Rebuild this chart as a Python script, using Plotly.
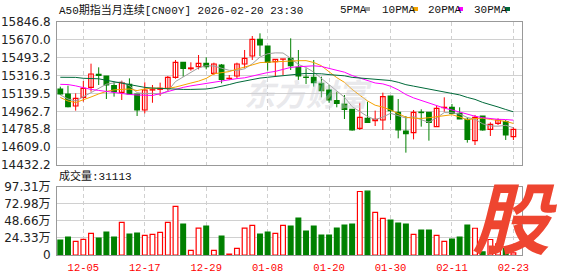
import plotly.graph_objects as go

# ---------------- data ----------------
dates = ['2025-12-02', '2025-12-03', '2025-12-04', '2025-12-05',
         '2025-12-08', '2025-12-09', '2025-12-10', '2025-12-11', '2025-12-12',
         '2025-12-15', '2025-12-16', '2025-12-17', '2025-12-18', '2025-12-19',
         '2025-12-22', '2025-12-23', '2025-12-24', '2025-12-25', '2025-12-26',
         '2025-12-29', '2025-12-30', '2025-12-31', '2026-01-01', '2026-01-02',
         '2026-01-05', '2026-01-06', '2026-01-07', '2026-01-08', '2026-01-09',
         '2026-01-12', '2026-01-13', '2026-01-14', '2026-01-15', '2026-01-16',
         '2026-01-19', '2026-01-20', '2026-01-21', '2026-01-22', '2026-01-23',
         '2026-01-26', '2026-01-27', '2026-01-28', '2026-01-29', '2026-01-30',
         '2026-02-02', '2026-02-03', '2026-02-04', '2026-02-05', '2026-02-06',
         '2026-02-09', '2026-02-10', '2026-02-11', '2026-02-12', '2026-02-13',
         '2026-02-16', '2026-02-17', '2026-02-18', '2026-02-19', '2026-02-20',
         '2026-02-23']

opens = [15184, 15134.6, 15016, 15101.7, 15200.6, 15329, 15312.7, 15217.1, 15151.2, 15230.3,
         15134.6, 14976.4, 15174, 15181, 15190.7, 15299.5, 15447.9, 15385, 15405, 15438,
         15339, 15421.5, 15287, 15312.7, 15431.4, 15510.5, 15675.4, 15609.4, 15454.5, 15479,
         15487.5, 15398.4, 15301, 15299.5, 15240, 15174.2, 15068.7, 15035.8, 14983, 14795,
         14894, 14871, 14877.5, 15114.9, 14953.3, 14768.7, 14752, 14955, 14953.3, 14811.6,
         15000, 15002.8, 14943.3, 14884, 14673, 14917, 14785.2, 14844.5, 14861, 14712.7]

highs = [15207, 15217, 15141, 15263, 15434.7, 15398.4, 15312.7, 15256.7, 15266.5, 15289.6,
         15134.6, 15250, 15223.7, 15246.8, 15312.7, 15471, 15447.9, 15447.9, 15520.4, 15497.3,
         15444.6, 15431.4, 15322.6, 15444.6, 15569.9, 15708.3, 15734.7, 15609.4, 15477.6, 15481,
         15685.3, 15569.9, 15388.5, 15471, 15306, 15223.7, 15157.7, 15124.8, 14983, 15048,
         15058, 14970, 15147.9, 15114.9, 15085, 14917, 14976.4, 14983, 14953.3, 15025.9,
         15101.7, 15035.8, 15002.8, 14903.9, 14927, 14917, 14854.4, 14894, 14877.5, 14805]

lows = [15124.8, 15003, 14969.8, 15059, 15157.7, 15223.7, 15085.2, 15108.3, 15075.3, 15134.6,
        14917, 14943, 15048, 15114.9, 15167.6, 15286, 15306, 15365.5, 15378.6, 15378.6,
        15322.6, 15240.2, 15273, 15289.6, 15388.5, 15471, 15510.5, 15365.5, 15312.7, 15322.6,
        15372, 15273.1, 15233.6, 15207, 15101.7, 15048, 15003, 14887, 14772, 14778.6,
        14852, 14818, 14778.6, 14877.5, 14696, 14554.4, 14686, 14811.6, 14673, 14811.6,
        14960, 14943.3, 14887.3, 14653.3, 14630, 14772, 14719.3, 14828, 14679.7, 14679.7]

closes = [15134.6, 15009.4, 15091.8, 15190.7, 15332.5, 15319, 15223.7, 15157.7, 15246.8, 15134.6,
          14976.4, 15174.2, 15177, 15191, 15299.5, 15447.9, 15388.5, 15392, 15438, 15405,
          15431.4, 15279.7, 15290, 15431.4, 15487.5, 15675.4, 15619.3, 15447.9, 15477.6, 15481,
          15414.9, 15312.7, 15299, 15246.8, 15167.6, 15075.3, 15042.4, 14983, 14778.6, 14903.9,
          14854.4, 14884, 15108.3, 14969.8, 14779, 14742.3, 14953, 14951, 14854.4, 14992.9,
          15003, 14943.3, 14887.3, 14686.3, 14903.9, 14778.6, 14834.6, 14877.5, 14729, 14785.2]

# volume in 万 (10 000 contracts)
volumes_wan = [21.3, 25.5, 19.4, 22.2, 30.7, 24.1, 32.6, 25.5, 46.3, 29.8,
               31.2, 27.9, 29.3, 32.1, 46.3, 69.0, 43.9, 6.6, 38.3, 41.1,
               6.6, 26.9, 1.4, 9.4, 38.3, 42.0, 29.8, 32.6, 30.7, 42.0,
               41.1, 52.4, 34.0, 41.1, 28.3, 28.3, 38.3, 42.5, 43.9, 90.2,
               90.7, 60.5, 52.0, 49.6, 45.4, 43.9, 29.3, 35.4, 35.4, 27.9,
               19.4, 22.7, 25.5, 42.5, 38.0, 4.3, 22.0, 16.0, 9.4, 3.1113]

ma5 = [15125, 15085, 15065, 15105, 15151.8, 15188.7, 15231.5, 15244.7, 15255.9, 15216.4,
       15147.8, 15137.9, 15141.8, 15130.6, 15163.6, 15257.9, 15300.8, 15343.8, 15393.2, 15414.3,
       15411.0, 15389.2, 15368.8, 15367.5, 15384.0, 15432.8, 15500.7, 15532.3, 15541.5, 15540.2,
       15488.1, 15426.8, 15397.0, 15350.9, 15288.2, 15220.3, 15166.2, 15103.0, 15009.4, 14956.6,
       14912.5, 14880.8, 14905.8, 14944.1, 14919.1, 14896.7, 14910.5, 14879.0, 14855.9, 14898.7,
       14950.9, 14948.9, 14936.2, 14902.6, 14884.8, 14839.9, 14818.1, 14816.2, 14824.7, 14801.0]

ma10 = [15100, 15065, 15050, 15075, 15105, 15135, 15160, 15175, 15180, 15184.1,
        15168.3, 15184.7, 15193.3, 15193.3, 15190.0, 15202.9, 15219.4, 15242.8, 15261.9, 15289.0,
        15334.5, 15345.0, 15356.3, 15380.4, 15399.2, 15421.9, 15445.0, 15450.6, 15454.5, 15462.1,
        15460.5, 15463.8, 15464.7, 15446.2, 15414.2, 15354.2, 15296.5, 15250.0, 15180.2, 15122.4,
        15066.4, 15023.5, 15004.4, 14976.8, 14937.9, 14904.6, 14895.7, 14892.4, 14900.0, 14908.9,
        14923.8, 14929.7, 14907.6, 14879.3, 14891.8, 14895.4, 14883.5, 14876.2, 14863.7, 14842.9]

ma20 = [15230, 15228, 15215, 15195, 15180, 15170, 15160, 15145, 15135, 15130,
        15125, 15120, 15120, 15138, 15160, 15180, 15200, 15215, 15228, 15236.6,
        15251.4, 15264.9, 15274.8, 15286.9, 15294.6, 15312.4, 15332.2, 15346.7, 15358.2, 15375.6,
        15397.5, 15404.4, 15410.5, 15413.3, 15406.7, 15388.1, 15370.8, 15350.3, 15317.4, 15292.3,
        15263.5, 15243.7, 15234.6, 15211.5, 15176.1, 15129.4, 15096.1, 15071.2, 15040.1, 15015.7,
        14995.1, 14976.6, 14956.0, 14928.1, 14914.9, 14900.0, 14889.6, 14884.3, 14881.9, 14875.9]

ma30 = [15300, 15300, 15299, 15290, 15286, 15285, 15270, 15255, 15240, 15225,
        15212, 15200, 15193, 15188, 15185, 15182, 15180, 15180, 15182, 15184,
        15195, 15210, 15228, 15248, 15265, 15280, 15292, 15300, 15306, 15311.7,
        15321.1, 15331.2, 15338.1, 15340.0, 15334.5, 15326.3, 15320.3, 15314.5, 15298.9, 15291.2,
        15287.1, 15277.4, 15275.1, 15267.8, 15250.4, 15226.9, 15212.4, 15197.7, 15178.2, 15164.5,
        15150.2, 15139.0, 15125.6, 15100.8, 15081.3, 15051.4, 15025.2, 15006.2, 14981.3, 14958.1]

price_ticks = [15846.8, 15670.0, 15493.2, 15316.3, 15139.5, 14962.7, 14785.8, 14609.0, 14432.2]
vol_ticks = [97.31, 72.98, 48.66, 24.33, 0]
vol_tick_text = ['97.31万', '72.98万', '48.66万', '24.33万', '0']
date_ticks = ['12-05', '12-17', '12-29', '01-08', '01-20', '01-30', '02-11', '02-23']
title_text = 'A50期指当月连续[CN00Y] 2026-02-20 23:30'
last_volume = 31113
ma_names = ['5PMA', '10PMA', '20PMA', '30PMA']

# ---------------- styles ----------------
W, H = 578, 276
RED = '#ff0000'
GREEN = '#008000'
MA_COLORS = ['#a0a0a0', '#f5a200', '#ff00ff', '#006a3a']
GRID = '#d0d0d0'
FRAME = '#999999'
MONO = 'Liberation Mono, Noto Sans CJK SC'

idx = list(range(len(dates)))
up = [c >= o for o, c in zip(opens, closes)]
md = [d[5:] for d in dates]
tick_idx = [md.index(t) for t in date_ticks]


def px(xp):
    return xp / W


def py(yp):
    return 1 - yp / H


fig = go.Figure()

# wicks
for flag, col in ((True, RED), (False, GREEN)):
    wx, wy = [], []
    for i in idx:
        if up[i] == flag:
            wx += [i, i, None]
            wy += [lows[i], highs[i], None]
    fig.add_trace(go.Scatter(x=wx, y=wy, mode='lines', line=dict(color=col, width=1),
                             hoverinfo='skip', showlegend=False, xaxis='x', yaxis='y'))

# bodies
for flag, fill, col in ((True, '#ffffff', RED), (False, GREEN, GREEN)):
    bx = [i for i in idx if up[i] == flag]
    base = [min(opens[i], closes[i]) for i in bx]
    hgt = [max(abs(closes[i] - opens[i]), 1.0) for i in bx]
    fig.add_trace(go.Bar(x=bx, y=hgt, base=base, width=0.6,
                         marker=dict(color=fill, line=dict(color=col, width=1.2)),
                         showlegend=False, xaxis='x', yaxis='y'))

# moving averages
for vals, col in zip((ma5, ma10, ma20, ma30), MA_COLORS):
    fig.add_trace(go.Scatter(x=idx, y=vals, mode='lines', line=dict(color=col, width=1),
                             showlegend=False, xaxis='x', yaxis='y'))

# volume
for flag, fill, col in ((True, '#ffffff', RED), (False, GREEN, GREEN)):
    vx = [i for i in idx if up[i] == flag]
    vy = [volumes_wan[i] for i in vx]
    fig.add_trace(go.Bar(x=vx, y=vy, width=0.62,
                         marker=dict(color=fill, line=dict(color=col, width=1.2)),
                         showlegend=False, xaxis='x2', yaxis='y2'))

xr = [-0.43, 60.12]
common_x = dict(domain=[px(57), px(522)], range=xr, tickvals=tick_idx,
                showgrid=True, gridcolor=GRID, griddash='4px,3px', gridwidth=1,
                showline=True, mirror=True, linecolor=FRAME, linewidth=1,
                zeroline=False, ticks='', fixedrange=True, automargin=False)

fig.update_layout(
    width=W, height=H,
    margin=dict(l=0, r=0, t=0, b=0),
    paper_bgcolor='white', plot_bgcolor='white',
    barmode='overlay', showlegend=False,
    xaxis=dict(**common_x, anchor='y', showticklabels=False),
    yaxis=dict(domain=[py(165), py(22)], range=[price_ticks[-1], price_ticks[0]],
               tickvals=price_ticks, ticktext=[f'{v:.1f}' for v in price_ticks],
               showgrid=True, gridcolor=GRID, gridwidth=1,
               showline=True, mirror=True, linecolor=FRAME, linewidth=1,
               zeroline=False, ticks='', ticklabelstandoff=3,
               tickfont=dict(family='DejaVu Sans', size=12, color='#222222'),
               fixedrange=True, automargin=False, anchor='x'),
    xaxis2=dict(**common_x, anchor='y2', ticktext=date_ticks, showticklabels=True,
                tickfont=dict(family=MONO, size=10.5, color=RED), ticklabelstandoff=2),
    yaxis2=dict(domain=[py(255), py(186.5)], range=[0, vol_ticks[0]],
                tickvals=vol_ticks, ticktext=vol_tick_text,
                showgrid=True, gridcolor=GRID, gridwidth=1,
                showline=True, mirror=True, linecolor=FRAME, linewidth=1,
                zeroline=False, ticks='', ticklabelstandoff=3,
                tickfont=dict(family='DejaVu Sans, Noto Sans CJK SC', size=12, color='#222222'),
                fixedrange=True, automargin=False, anchor='x2'),
)

ann = []
# title
ann.append(dict(x=px(57), y=py(10), xref='paper', yref='paper', xanchor='left', yanchor='middle',
                text=title_text, showarrow=False, font=dict(family=MONO, size=11, color='#111111')))
# legend
leg_x = [338, 380, 426, 472]
sq_x = [365, 413, 458, 505]
for name, col, lx, sx in zip(ma_names, MA_COLORS, leg_x, sq_x):
    ann.append(dict(x=px(lx), y=py(10), xref='paper', yref='paper', xanchor='left', yanchor='middle',
                    text=name, showarrow=False, font=dict(family=MONO, size=11, color='#111111')))
    fig.add_shape(type='rect', xref='paper', yref='paper', x0=px(sx), x1=px(sx + 5),
                  y0=py(11), y1=py(7), fillcolor=col, line=dict(width=0))
# volume label
ann.append(dict(x=px(57), y=py(176), xref='paper', yref='paper', xanchor='left', yanchor='middle',
                text=f'成交量:{last_volume}', showarrow=False,
                font=dict(family=MONO, size=11, color='#111111')))
# watermark
ann.append(dict(x=px(308), y=py(93), xref='paper', yref='paper', xanchor='center', yanchor='middle',
                text='<b><i>东方财富</i></b>', showarrow=False,
                font=dict(family='Noto Sans CJK SC', size=31, color='rgba(205,205,212,0.45)')))
# logo
ann.append(dict(x=px(515), y=py(214), xref='paper', yref='paper', xanchor='center', yanchor='middle',
                text='<b><i>股</i></b>', showarrow=False,
                font=dict(family='Noto Sans CJK SC', size=78, color='#ee4530')))
fig.update_layout(annotations=ann)

fig.write_html('out.html')
